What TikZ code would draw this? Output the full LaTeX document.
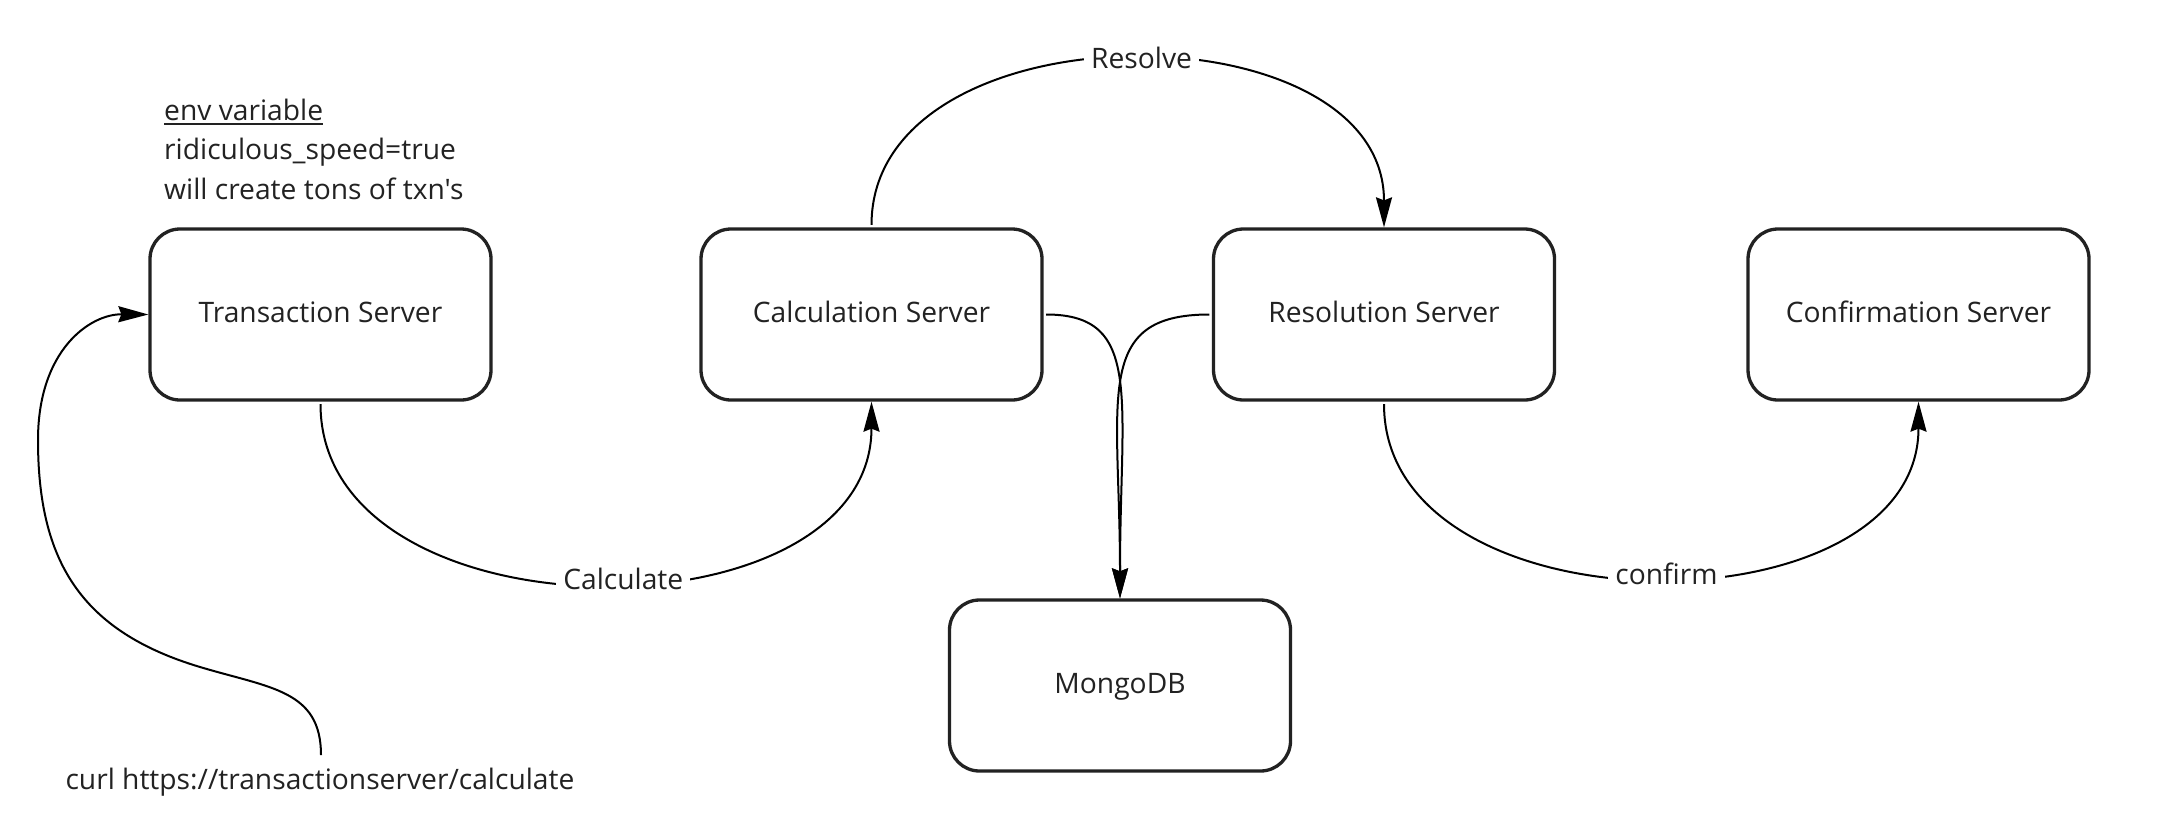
\documentclass[tikz,border=0pt]{standalone}
\usepackage{fontspec}
\newfontfamily\osans{Open Sans}
\usetikzlibrary{arrows.meta}
\definecolor{boxc}{HTML}{222222}
\definecolor{txtc}{HTML}{222222}
\newcommand\myul[1]{\setbox0\hbox{#1}\rlap{\rule[-5pt]{\wd0}{1.8pt}}\box0}
\begin{document}
\begin{tikzpicture}[x=1pt,y=-1pt,
  srv/.style={draw=boxc, line width=3.3pt, rounded corners=30pt, minimum width=341pt, minimum height=171pt, inner sep=0pt, font=\osans\fontsize{28.2}{33}\selectfont, text=txtc, text height=20pt, text depth=4pt},
  conn/.style={line width=2pt, black, shorten <=2.5pt, -{Stealth[length=30pt,width=16pt,inset=3pt]}},
  lbl/.style={fill=white, inner xsep=7pt, inner ysep=2pt, font=\osans\fontsize{28.2}{33}\selectfont, text=txtc, text height=20pt, text depth=4pt},
  txt/.style={font=\osans\fontsize{28.2}{33}\selectfont, text=txtc, inner sep=0pt}]
\useasboundingbox (0,0) rectangle (2176,836);
\fill[white] (0,0) rectangle (2176,836);
% servers
\node[srv] (ts) at (320.5,314.5) {Transaction Server};
\node[srv] (cs) at (871.5,314.5) {Calculation Server};
\node[srv] (rs) at (1384,314.5) {Resolution Server};
\node[srv] (cf) at (1918.5,314.5) {Confirmation Server};
\node[srv] (mg) at (1120,685.5) {MongoDB};
% notes
\node[txt, anchor=base west] (envA) at (164,120) {\myul{env variable}};
\node[txt, anchor=base west] (envB) at (164,159.5) {ridiculous\_speed=true};
\node[txt, anchor=base west] (envC) at (164,199) {will create tons of txn's};
\node[txt, anchor=base] (curl) at (320,789) {curl https://transactionserver/calculate};
\coordinate (c0) at (321,755);
% connectors
\draw[conn] (ts.south) .. controls +(0,241.5) and +(0,241.5) .. node[lbl, pos=0.533] (lcalc) {Calculate} (cs.south);
\draw[conn] (cs.north) .. controls +(0,-223.4) and +(0,-223.4) .. node[lbl, pos=0.518] (lres) {Resolve} (rs.north);
\draw[conn] (rs.south) .. controls +(0,234) and +(0,234) .. node[lbl, pos=0.519] (lconf) {confirm} (cf.south);
\draw[conn] (cs.east) .. controls +(100,0) and +(0,-200) .. (mg.north);
\draw[conn] (rs.west) .. controls +(-120,0) and +(0,-200) .. (mg.north);
\draw[conn, shorten <=0pt] (c0) .. controls (321,690) and (270,688) .. (200,667)
  .. controls (80,631) and (38,560) .. (38,440)
  .. controls (38,350) and (90,314) .. (ts.west);
\end{tikzpicture}
\end{document}
